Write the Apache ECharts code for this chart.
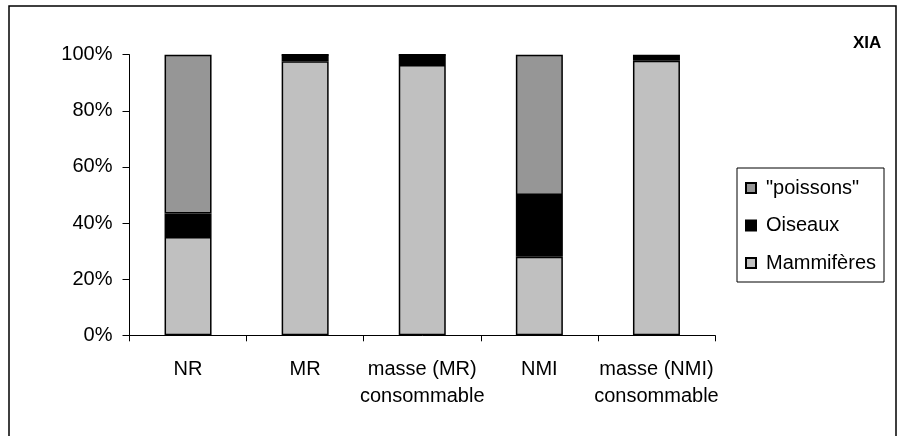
<!DOCTYPE html>
<html>
<head>
<meta charset="utf-8">
<script src="https://cdn.jsdelivr.net/npm/echarts@6/dist/echarts.min.js"></script>
<style>
html, body { margin: 0; padding: 0; background: #fff; }
#main { width: 903px; height: 436px; }
</style>
</head>
<body>
<div id="main"></div>
<script>
// parts (%) per category, bottom to top
const categories = ['NR', 'MR', 'masse (MR)\nconsommable', 'NMI', 'masse (NMI)\nconsommable'];
const mammiferes = [35.0, 97.7, 96.3, 28.0, 97.8];
const oiseaux = [8.4, 2.3, 3.7, 22.0, 1.4];
const poissons = [56.6, 0, 0, 50.0, 0.8];
const yTicks = [0, 20, 40, 60, 80, 100];

var font = 'Liberation Sans, Arial, sans-serif';
var chart = echarts.init(document.getElementById('main'));

function bar(name, data, color) {
    return {
        name: name,
        type: 'bar',
        stack: 'total',
        barWidth: 47,
        data: data,
        itemStyle: { color: color, borderColor: '#000', borderWidth: 1.5 },
        emphasis: { disabled: true }
    };
}

var option = {
    animation: false,
    backgroundColor: '#fff',
    textStyle: { fontFamily: font, color: '#000' },
    graphic: [{
        type: 'rect',
        shape: { x: 9, y: 6, width: 887, height: 450 },
        style: { fill: 'none', stroke: '#000', lineWidth: 1.5 },
        z: 100
    }, {
        type: 'text',
        left: 853,
        top: 35,
        style: { text: 'XIA', font: 'bold 17px ' + font, fill: '#000' }
    }],
    legend: {
        orient: 'vertical',
        left: 737,
        top: 168,
        data: ['"poissons"', 'Oiseaux', 'Mammifères'],
        icon: 'rect',
        itemWidth: 10,
        itemHeight: 10,
        itemGap: 17.5,
        padding: [10, 8, 9, 8],
        borderColor: '#000',
        borderWidth: 1,
        textStyle: { fontSize: 20, lineHeight: 20, color: '#000', fontFamily: font, padding: [0, 0, 0, 5] },
        selectedMode: false
    },
    grid: { left: 129.5, right: 188, top: 54.7, bottom: 100.7 },
    xAxis: {
        type: 'category',
        data: categories,
        axisLine: { lineStyle: { color: '#000', width: 1 } },
        axisTick: { show: true, length: 6, interval: 0, lineStyle: { color: '#000' } },
        axisLabel: { interval: 0, fontSize: 20, lineHeight: 27, margin: 21, color: '#000', fontFamily: font }
    },
    yAxis: {
        type: 'value',
        min: yTicks[0],
        max: yTicks[yTicks.length - 1],
        interval: yTicks[1] - yTicks[0],
        axisLine: { show: true, lineStyle: { color: '#000', width: 1 } },
        axisTick: { show: true, length: 7, lineStyle: { color: '#000' } },
        splitLine: { show: false },
        axisLabel: { formatter: '{value}%', fontSize: 20, margin: 17, color: '#000', fontFamily: font }
    },
    series: [
        bar('Mammifères', mammiferes, '#C0C0C0'),
        bar('Oiseaux', oiseaux, '#000000'),
        bar('"poissons"', poissons, '#969696')
    ]
};

chart.setOption(option);
</script>
</body>
</html>
